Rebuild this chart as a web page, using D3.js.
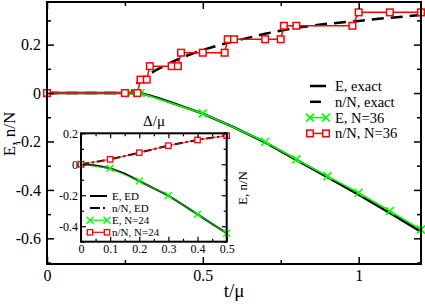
<!DOCTYPE html>
<html><head><meta charset="utf-8">
<script src="https://cdn.jsdelivr.net/npm/d3@7"></script>
<style>body{margin:0;background:#fff}svg{display:block}</style>
</head><body>
<svg id="c" width="425" height="304"></svg>
<script>
// ---------- data: main panel ----------
const exactT = [0,0.3,0.35,0.4,0.45,0.5,0.6,0.7,0.8,0.9,1.0,1.1,1.2];
const exactE = [0,0,-0.018,-0.04,-0.062,-0.085,-0.142,-0.204,-0.276,-0.347,-0.42,-0.495,-0.572];
const exactNT = [0,0.27,0.28,0.29,0.3,0.32,0.35,0.4,0.45,0.5,0.55,0.6,0.7,0.8,0.9,1.0,1.1,1.2];
const exactN = [0,0,0.028,0.042,0.053,0.072,0.095,0.128,0.155,0.178,0.197,0.214,0.245,0.27,0.286,0.298,0.311,0.322];
const e36T = [0,0.27,0.3,0.5,0.7,0.8,0.9,1.0,1.1,1.2];
const e36 = [0,0,0,-0.084,-0.201,-0.274,-0.343,-0.412,-0.487,-0.564];
const n36T = [0,0.25,0.29,0.3,0.32,0.33,0.4,0.42,0.43,0.5,0.57,0.58,0.6,0.7,0.75,0.76,0.8,0.98,1.0,1.1,1.2];
const n36 = [0,0,0,2/36,2/36,4/36,4/36,4/36,6/36,6/36,6/36,8/36,8/36,8/36,8/36,10/36,10/36,10/36,12/36,12/36,12/36];
const xMajor = [0,0.5,1];
const xMinor = [0.25,0.75];
const yMajor = [-0.6,-0.4,-0.2,0,0.2];
const yMinor = [-0.7,-0.5,-0.3,-0.1,0.1,0.3];
const legendMain = ["E, exact","n/N, exact","E, N=36","n/N, N=36"];
// ---------- data: inset ----------
const edT = [0,0.05,0.1,0.15,0.2,0.25,0.3,0.35,0.4,0.45,0.5];
const edE = [0,-0.008,-0.026,-0.06,-0.108,-0.155,-0.202,-0.262,-0.323,-0.385,-0.445];
const edN = [0,0.015,0.032,0.053,0.075,0.098,0.12,0.14,0.157,0.172,0.185];
const n24T = [0,0.1,0.2,0.3,0.4,0.5];
const e24 = [0,-0.026,-0.108,-0.202,-0.323,-0.445];
const n24 = [0,0.032,0.075,0.12,0.157,0.185];
const ixMajor = [0,0.1,0.2,0.3,0.4,0.5];
const ixMinor = [0.05,0.15,0.25,0.35,0.45];
const iyMajor = [-0.4,-0.2,0,0.2];
const iyMinor = [-0.5,-0.3,-0.1,0.1];
const legendInset = ["E, ED","n/N, ED","E, N=24","n/N, N=24"];

const GREEN="#00ff00", RED="#ff0000";
const FONT = "'Liberation Serif'";
const svg = d3.select("#c");

function zip(a,b){return a.map((v,i)=>[v,b[i]]);}
function txt(g,s,size){return g.append("text").style("font-family",FONT).style("font-size",size+"px").attr("fill","#000").text(s);}

function frame(g,x,y,opt){
  const [x0,x1]=x.range(), [y0,y1]=y.range();
  const fmt = d=> d===0?"0":String(+d.toFixed(2));
  const mk=(axis,scale,vals,size,labels,tx,ty)=>{
    const a=axis(scale).tickValues(vals).tickSizeInner(-size).tickSizeOuter(0).tickPadding(opt.pad);
    a.tickFormat(labels?fmt:()=>"");
    const s=g.append("g").attr("transform",`translate(${tx},${ty})`).call(a);
    s.attr("font-family",null).attr("font-size",null);
    s.select(".domain").remove();
    s.selectAll("line").attr("stroke","#000").attr("stroke-width",opt.tw);
    s.selectAll("text").style("font-family",FONT).style("font-size",opt.fs+"px").attr("fill","#000");
    return s;
  };
  mk(d3.axisBottom,x,opt.xM,opt.maj,true,0,y0);
  mk(d3.axisBottom,x,opt.xm,opt.min,false,0,y0);
  mk(d3.axisTop,x,opt.xM,opt.maj,false,0,y1);
  mk(d3.axisTop,x,opt.xm,opt.min,false,0,y1);
  mk(d3.axisLeft,y,opt.yM,opt.maj,true,x0,0);
  mk(d3.axisLeft,y,opt.ym,opt.min,false,x0,0);
  mk(d3.axisRight,y,opt.yM,opt.maj,false,x1,0);
  mk(d3.axisRight,y,opt.ym,opt.min,false,x1,0);
  g.append("rect").attr("x",x0).attr("y",y1).attr("width",x1-x0).attr("height",y0-y1)
   .attr("fill","none").attr("stroke","#000").attr("stroke-width",opt.fw);
}
function xMarker(g,cx,cy,s,color,w){
  g.append("path").attr("d",`M${cx-s},${cy-s}L${cx+s},${cy+s}M${cx-s},${cy+s}L${cx+s},${cy-s}`)
   .attr("stroke",color).attr("stroke-width",w).attr("fill","none");
}
function sqMarker(g,cx,cy,s,color,w){
  g.append("rect").attr("x",cx-s).attr("y",cy-s).attr("width",2*s).attr("height",2*s)
   .attr("fill","#fff").attr("stroke",color).attr("stroke-width",w);
}

// ---------- main panel ----------
const x = d3.scaleLinear().domain([0,1.2]).range([47,421]);
const y = d3.scaleLinear().domain([-0.706,0.376]).range([264,2]);
const main = svg.append("g");
const line = d3.line().x(d=>x(d[0])).y(d=>y(d[1]));
main.append("path").attr("d",line(zip(exactT,exactE))).attr("fill","none").attr("stroke","#000").attr("stroke-width",2.5);
main.append("path").attr("d",line(zip(exactNT,exactN))).attr("fill","none").attr("stroke","#000").attr("stroke-width",2.5).attr("stroke-dasharray","12,7");
main.append("path").attr("d",line(zip(e36T,e36))).attr("fill","none").attr("stroke",GREEN).attr("stroke-width",1.6);
zip(e36T,e36).forEach(d=>xMarker(main,x(d[0]),y(d[1]),4,GREEN,1.5));
main.append("path").attr("d",line(zip(n36T,n36))).attr("fill","none").attr("stroke",RED).attr("stroke-width",1.5);
zip(n36T,n36).forEach(d=>sqMarker(main,x(d[0]),y(d[1]),3.3,RED,1.5));

frame(main,x,y,{xM:xMajor,xm:xMinor,yM:yMajor,ym:yMinor,maj:7,min:4,tw:1.5,fw:2,fs:16,pad:6});
txt(main,"t/μ",19).attr("x",234).attr("y",297).attr("text-anchor","middle");
txt(main,"E, n/N",17).attr("transform","translate(15,134) rotate(-90)").attr("text-anchor","middle");

// main legend
const lg = svg.append("g");
legendMain.forEach((t,i)=>{
  const yy = 86+i*15.8;
  txt(lg,t,14.5).attr("x",335).attr("y",yy+5);
  if(i===0) lg.append("line").attr("x1",310).attr("x2",326).attr("y1",yy).attr("y2",yy).attr("stroke","#000").attr("stroke-width",2.5);
  if(i===1) lg.append("line").attr("x1",310).attr("x2",321).attr("y1",yy).attr("y2",yy).attr("stroke","#000").attr("stroke-width",2.5);
  if(i===2){lg.append("line").attr("x1",310).attr("x2",326).attr("y1",yy).attr("y2",yy).attr("stroke",GREEN).attr("stroke-width",1.6);
    xMarker(lg,310,yy,4,GREEN,1.5); xMarker(lg,326,yy,4,GREEN,1.5);}
  if(i===3){lg.append("line").attr("x1",310).attr("x2",326).attr("y1",yy).attr("y2",yy).attr("stroke",RED).attr("stroke-width",1.5);
    sqMarker(lg,310,yy,3.3,RED,1.5); sqMarker(lg,326,yy,3.3,RED,1.5);}
});

// ---------- inset ----------
const ix = d3.scaleLinear().domain([0,0.5]).range([81,226.7]);
const iy = d3.scaleLinear().domain([-0.5,0.2]).range([241.7,133.3]);
const ins = svg.append("g");
ins.append("rect").attr("x",81).attr("y",133.3).attr("width",145.7).attr("height",108.4).attr("fill","#fff");
const iline = d3.line().x(d=>ix(d[0])).y(d=>iy(d[1]));
ins.append("path").attr("d",iline(zip(edT,edE))).attr("fill","none").attr("stroke","#000").attr("stroke-width",2);
ins.append("path").attr("d",iline(zip(edT,edN))).attr("fill","none").attr("stroke","#000").attr("stroke-width",2).attr("stroke-dasharray","8,3,2,3");
ins.append("path").attr("d",iline(zip(n24T,e24))).attr("fill","none").attr("stroke",GREEN).attr("stroke-width",1.2).attr("stroke-opacity",0.7);
zip(n24T,e24).forEach(d=>xMarker(ins,ix(d[0]),iy(d[1]),3.5,GREEN,1.4));
ins.append("path").attr("d",iline(zip(n24T,n24))).attr("fill","none").attr("stroke",RED).attr("stroke-width",1.2).attr("stroke-opacity",0.7);
zip(n24T,n24).forEach(d=>sqMarker(ins,ix(d[0]),iy(d[1]),2.7,RED,1.3));
frame(ins,ix,iy,{xM:ixMajor,xm:ixMinor,yM:iyMajor,ym:iyMinor,maj:5,min:3,tw:1.2,fw:2,fs:12,pad:3});
txt(ins,"Δ/μ",15).attr("x",154).attr("y",126).attr("text-anchor","middle");
txt(ins,"E, n/N",13).attr("transform","translate(247,188) rotate(-90)").attr("text-anchor","middle");

legendInset.forEach((t,i)=>{
  const yy = 196+i*12.1;
  txt(ins,t,11).attr("x",112).attr("y",yy+4);
  if(i===0) ins.append("line").attr("x1",90).attr("x2",107).attr("y1",yy).attr("y2",yy).attr("stroke","#000").attr("stroke-width",2);
  if(i===1) ins.append("line").attr("x1",90).attr("x2",107).attr("y1",yy).attr("y2",yy).attr("stroke","#000").attr("stroke-width",2).attr("stroke-dasharray","10,3,2,3");
  if(i===2){ins.append("line").attr("x1",90).attr("x2",107).attr("y1",yy).attr("y2",yy).attr("stroke",GREEN).attr("stroke-width",1.2);
    xMarker(ins,90,yy,3.5,GREEN,1.4); xMarker(ins,107,yy,3.5,GREEN,1.4);}
  if(i===3){ins.append("line").attr("x1",90).attr("x2",107).attr("y1",yy).attr("y2",yy).attr("stroke",RED).attr("stroke-width",1.2);
    sqMarker(ins,90,yy,2.7,RED,1.3); sqMarker(ins,107,yy,2.7,RED,1.3);}
});
</script>
</body></html>
